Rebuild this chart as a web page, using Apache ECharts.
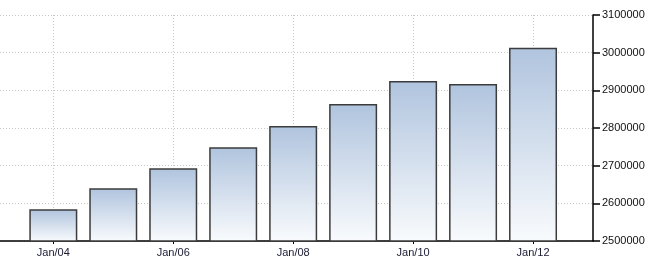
<!DOCTYPE html>
<html>
<head>
<meta charset="utf-8">
<script src="https://cdn.jsdelivr.net/npm/echarts@6/dist/echarts.min.js"></script>
<style>html,body{margin:0;padding:0;background:#fff}#c{width:661px;height:273px}</style>
</head>
<body>
<div id="c"></div>
<script>
var years = [2004, 2005, 2006, 2007, 2008, 2009, 2010, 2011, 2012];
var values = [2584000, 2640000, 2693000, 2749000, 2805000, 2864000, 2925000, 2917000, 3013000];
var tickYears = [2004, 2006, 2008, 2010, 2012];
var tickLabels = ['Jan/04', 'Jan/06', 'Jan/08', 'Jan/10', 'Jan/12'];

var data = years.map(function (y, i) { return [y, values[i]]; });
var chart = echarts.init(document.getElementById('c'));
chart.setOption({
  animation: false,
  grid: { left: 0, right: 68, top: 15, bottom: 32, containLabel: false },
  xAxis: {
    type: 'value',
    min: 2003.111,
    max: 2013,
    axisLine: { show: true, onZero: false, lineStyle: { color: '#000', width: 1.5 } },
    axisTick: { show: true, length: 3, customValues: tickYears, lineStyle: { color: '#000' } },
    axisLabel: {
      customValues: tickYears,
      formatter: function (v) { return tickLabels[tickYears.indexOf(v)] || ''; },
      color: '#1a1a33', fontSize: 11, fontFamily: 'Liberation Sans, Arial', margin: 6
    },
    splitLine: { show: true, lineStyle: { color: '#c8c8c8', type: [1, 2], width: 1 } }
  },
  yAxis: {
    type: 'value',
    position: 'right',
    min: 2500000,
    max: 3100000,
    interval: 100000,
    axisLine: { show: true, lineStyle: { color: '#000', width: 1.5 } },
    axisTick: { show: true, inside: false, length: 7, lineStyle: { color: '#000', width: 1.5 } },
    axisLabel: {
      color: '#111', fontSize: 11, fontFamily: 'Liberation Sans, Arial', margin: 9,
      formatter: function (v) { return String(v); }
    },
    splitLine: { show: true, lineStyle: { color: '#c8c8c8', type: [1, 2], width: 1 } }
  },
  series: [{
    type: 'bar',
    data: data,
    barWidth: 48,
    itemStyle: {
      color: new echarts.graphic.LinearGradient(0, 0, 0, 1, [
        { offset: 0, color: '#b0c4de' },
        { offset: 1, color: '#f9fbfd' }
      ]),
      borderColor: '#3c3c3c',
      borderWidth: 1.5
    }
  }]
});
</script>
</body>
</html>
